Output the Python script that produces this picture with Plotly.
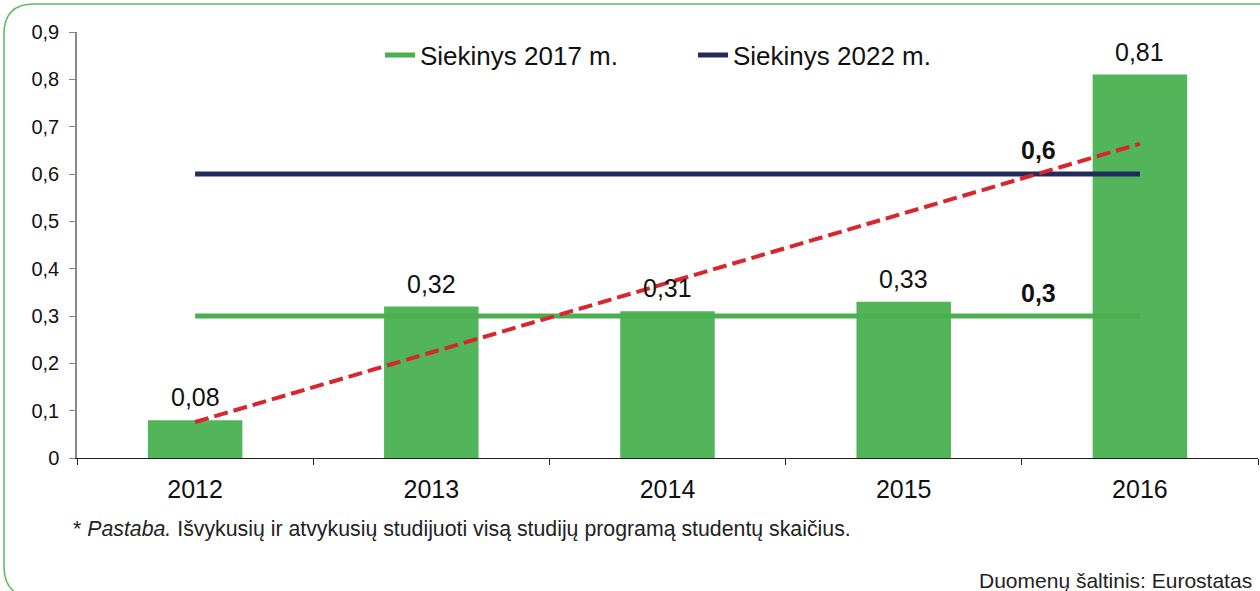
import plotly.graph_objects as go
import numpy as np

years = ["2012", "2013", "2014", "2015", "2016"]
values = [0.08, 0.32, 0.31, 0.33, 0.81]
value_labels = ["0,08", "0,32", "0,31", "0,33", "0,81"]
target_2017 = 0.3
target_2022 = 0.6
target_2017_label = "Siekinys 2017 m."
target_2022_label = "Siekinys 2022 m."
y_ticks = [0, 0.1, 0.2, 0.3, 0.4, 0.5, 0.6, 0.7, 0.8, 0.9]
y_tick_labels = ["0", "0,1", "0,2", "0,3", "0,4", "0,5", "0,6", "0,7", "0,8", "0,9"]

W, H = 1260, 591
ML, MR, MT, MB = 77, 2, 32, 133
PW = W - ML - MR
PH = H - MT - MB

def px(x):
    return (x - ML) / PW

def py(y):
    return (H - MB - y) / PH

FONT = "Arial, Liberation Sans, sans-serif"

# linear trend of the bar values
idx = np.arange(len(values))
slope, intercept = np.polyfit(idx, values, 1)
trend = [intercept + slope * i for i in (idx[0], idx[-1])]

fig = go.Figure()
fig.add_trace(go.Bar(
    x=years, y=values, marker=dict(color="#52B55A", line=dict(width=0)),
    width=0.4, showlegend=False,
))
fig.add_trace(go.Scatter(
    x=years, y=[target_2017] * len(years), mode="lines",
    line=dict(color="#4BAF50", width=5), name=target_2017_label,
))
fig.add_trace(go.Scatter(
    x=years, y=[target_2022] * len(years), mode="lines",
    line=dict(color="#222B5A", width=5), name=target_2022_label,
))
fig.add_trace(go.Scatter(
    x=[years[0], years[-1]], y=trend, mode="lines",
    line=dict(color="#D9262E", width=4, dash="14px,6px"), showlegend=False,
))

for i, (v, lab) in enumerate(zip(values, value_labels)):
    fig.add_annotation(x=i, y=v, xref="x", yref="y", text=lab, showarrow=False,
                       yanchor="middle", yshift=23,
                       font=dict(size=25, color="#111111", family=FONT))

fig.add_annotation(x=3.57, y=0.651, xref="x", yref="y", text="<b>0,6</b>",
                   showarrow=False, font=dict(size=25, color="#111111", family=FONT))
fig.add_annotation(x=3.57, y=0.349, xref="x", yref="y", text="<b>0,3</b>",
                   showarrow=False, font=dict(size=25, color="#111111", family=FONT))

fig.add_annotation(x=px(71), y=py(529), xref="paper", yref="paper", xanchor="left", yanchor="middle",
                   text="* <i>Pastaba.</i> Išvykusių ir atvykusių studijuoti visą studijų programą studentų skaičius.",
                   showarrow=False, font=dict(size=21.3, color="#222222", family=FONT))
fig.add_annotation(x=px(1254), y=py(580), xref="paper", yref="paper", xanchor="right", yanchor="middle",
                   text="Duomenų šaltinis: Eurostatas",
                   showarrow=False, font=dict(size=21, color="#222222", family=FONT))

# rounded border
path = (f"M {px(1275)},{py(4)} L {px(34)},{py(4)} Q {px(4)},{py(4)} {px(4)},{py(34)} "
        f"L {px(4)},{py(566)} Q {px(4)},{py(597)} {px(34)},{py(597)} L {px(1275)},{py(597)}")
fig.add_shape(type="path", path=path, xref="paper", yref="paper",
              line=dict(color="#5DBB63", width=1.5), layer="below")

fig.update_layout(
    width=W, height=H, margin=dict(l=ML, r=MR, t=MT, b=MB),
    plot_bgcolor="white", paper_bgcolor="white",
    separators=",.",
    font=dict(family=FONT, color="#111111"),
    bargap=0.6,
    legend=dict(orientation="h", x=px(380), y=py(55), xanchor="left", yanchor="middle",
                font=dict(size=26, family=FONT, color="#111111"),
                entrywidth=268, entrywidthmode="pixels", bgcolor="rgba(0,0,0,0)",
                itemwidth=30),
    xaxis=dict(type="category", tickson="boundaries", ticks="outside", ticklen=6,
               tickcolor="#222222", showline=True, linecolor="#222222", linewidth=1,
               showgrid=False, tickfont=dict(size=25, family=FONT, color="#111111"),
               ticklabelstandoff=9, range=[-0.5, 4.5]),
    yaxis=dict(range=[0, 0.9], tickvals=y_ticks, ticktext=y_tick_labels, ticks="outside",
               ticklen=6, tickcolor="#888888", showline=True, linecolor="#888888",
               linewidth=1.5, showgrid=False, zeroline=False,
               tickfont=dict(size=20, family=FONT, color="#111111"), ticklabelstandoff=6),
)

fig.write_html("out.html", config={"displayModeBar": False},
               post_script="document.body.style.margin='0';document.body.style.overflow='hidden';")
